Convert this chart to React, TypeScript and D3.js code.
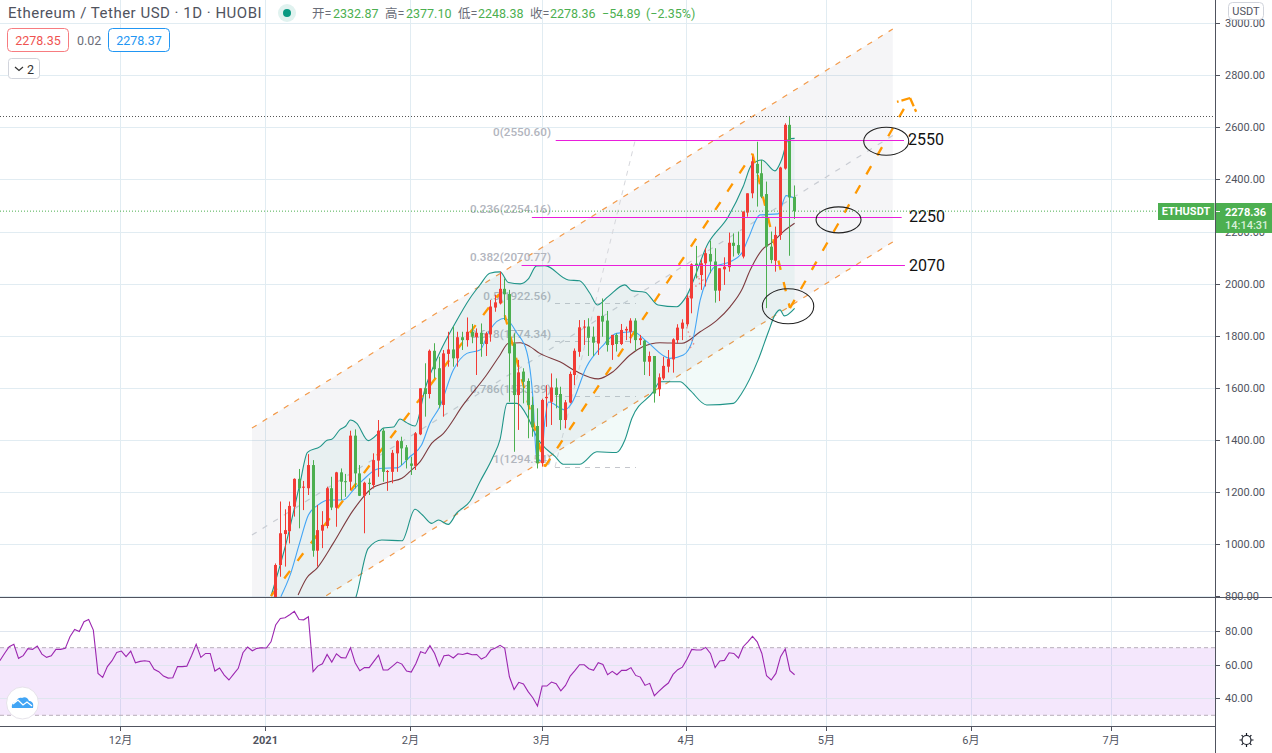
import React from 'react';
import * as d3 from 'd3';

const opens = [770,919,1038,1049,1143,1250,1216,1214,1303,974,1051,1069,1214,1139,1275,1241,1239,1416,1271,1185,1235,1226,1320,1435,1277,1277,1348,1395,1371,1309,1300,1421,1598,1576,1742,1675,1534,1730,1747,1713,1794,1783,1815,1794,1811,1768,1805,1908,1924,1980,1960,1770,1572,1662,1626,1534,1453,1310,1560,1546,1601,1576,1476,1543,1649,1738,1832,1835,1796,1770,1876,1858,1764,1803,1768,1820,1815,1858,1783,1781,1700,1722,1594,1636,1681,1709,1783,1827,1844,1943,2077,2033,2078,2114,2085,1973,2055,2063,2157,2148,2104,2273,2347,2460,2424,2344,2142,2088,2187,2442,2610,2332.87];
const closes = [919,1041,1053,1146,1250,1214,1220,1303,974,1053,1073,1214,1140,1275,1239,1239,1416,1271,1185,1235,1230,1322,1435,1277,1280,1350,1395,1367,1322,1300,1425,1598,1576,1742,1671,1534,1732,1747,1713,1794,1783,1815,1796,1811,1768,1809,1912,1928,1980,1959,1732,1572,1659,1623,1534,1448,1310,1553,1565,1601,1572,1476,1544,1653,1742,1832,1835,1792,1773,1876,1854,1764,1803,1768,1822,1826,1858,1783,1790,1700,1722,1578,1640,1684,1710,1786,1831,1850,1946,2074,2068,2078,2117,2085,1973,2059,2065,2157,2145,2116,2277,2347,2470,2424,2334,2142,2091,2187,2446,2610,2331,2278.36];
const highs = [925,1163,1133,1163,1252,1288,1242,1345,1322,1150,1126,1220,1258,1277,1290,1269,1435,1440,1303,1239,1252,1348,1476,1444,1284,1361,1399,1412,1380,1335,1430,1598,1694,1747,1771,1719,1745,1815,1835,1815,1815,1870,1845,1828,1847,1815,1937,1957,2046,2020,1976,1809,1707,1675,1636,1566,1521,1558,1610,1655,1636,1604,1553,1662,1751,1860,1860,1867,1835,1876,1943,1895,1803,1809,1845,1835,1867,1867,1803,1783,1739,1722,1655,1719,1745,1790,1844,1863,1956,2078,2145,2093,2136,2165,2136,2059,2101,2196,2193,2200,2277,2347,2488,2545,2475,2392,2200,2219,2449,2616,2644,2377.1];
const lows = [700,874,913,1002,1105,1060,1130,1188,951,913,984,1060,1130,1066,1169,1181,1207,1213,1184,1041,1188,1213,1258,1239,1204,1233,1277,1303,1290,1265,1284,1418,1489,1559,1636,1521,1489,1681,1681,1681,1745,1758,1771,1649,1719,1722,1777,1892,1920,1860,1546,1354,1438,1540,1406,1412,1290,1297,1450,1457,1521,1438,1444,1540,1610,1719,1764,1722,1722,1726,1796,1739,1707,1739,1764,1783,1771,1742,1764,1649,1645,1543,1568,1630,1659,1658,1771,1783,1835,1886,2020,1976,1989,2040,1927,1933,1995,2046,2104,2110,2097,2257,2328,2296,2328,1906,2078,2046,2168,2438,2107,2248.38];

const upperIdx = [-1,2.4,5.2,6.8,9.5,11,12,13.8,15,16,17.3,19.8,22,23,25.2,26.6,28,29.8,32,35.2,38,41.6,43.7,45.8,48,49.8,52.3,54,55.8,57.6,62.6,65,67.2,68.8,71.1,74.7,76.2,79,81.8,85.8,87.6,92.5,96.8,100,101.8,104,106.8,108.2,109.7,111];
const upperVal = [800,1015,1233,1352,1374,1398,1402,1440,1453,1476,1464,1397,1426,1445,1449,1480,1466,1453,1599,1739,1835,1945,1995,2040,2045,2004,1999,2017,2068,2069,2014,2011,1963,1918,1950,1995,1973,1967,1918,1911,1944,2155,2257,2373,2456,2475,2433,2475,2555,2558];
const lowerIdx = [-1,10,17.2,19.8,22.7,27,29.8,31.4,33.4,34.8,36.9,38.7,41.6,43.7,46.5,48,49.5,51.6,54,55.8,59.8,61.5,65,68.7,72.9,74.7,76.2,80.8,82.2,86.5,88.6,92.2,97.9,99.7,103.2,105.4,106.8,107.9,108.8,111];
const lowerVal = [600,600,797,983,1015,1012,1133,1111,1079,1092,1075,1118,1165,1239,1335,1402,1540,1540,1484,1412,1335,1306,1306,1354,1351,1399,1483,1585,1623,1623,1591,1534,1540,1579,1707,1815,1880,1899,1876,1905];
const basisIdx = [4.8,6.6,8.9,12.3,16.6,20.9,22.7,24.4,27,28.7,30.9,33.4,35.9,40.1,45.1,48,49.8,52.3,54.4,56.5,60.8,64.4,69,72.2,75.8,78.6,82.2,86.9,90.8,94.3,97.2,99.7,101.5,104,106.4,108.6,111];
const basisVal = [804,868,908,1002,1130,1218,1230,1239,1252,1278,1316,1387,1425,1534,1649,1726,1771,1773,1758,1732,1700,1662,1634,1662,1726,1758,1773,1771,1815,1858,1911,1976,2052,2129,2161,2200,2232];
const fastIdx = [1.1,3.1,5.1,7,9.1,11.3,14.5,16.6,18.7,21.6,23,25.9,28.7,31.2,33,35.1,38,40.9,43.7,45.8,49,51.6,53.7,55,55.8,56.8,57.6,58.4,61.9,63.3,66.5,70.1,72.9,76.5,79.4,84.3,87.2,89.3,90.8,92.2,93.9,97.2,99.7,101.1,103.6,107.5,109.2,111];
const fastVal = [797,881,1002,1111,1150,1169,1169,1207,1246,1287,1291,1292,1335,1380,1464,1527,1668,1732,1745,1822,1867,1810,1739,1566,1335,1319,1476,1545,1515,1540,1681,1764,1809,1815,1777,1713,1726,1790,1937,2014,2065,2084,2117,2174,2264,2268,2338,2328];

const rsiValues = [62.3,66.6,70.6,72,63.7,65.3,69.4,69,71,66.2,64.3,65.2,69,69,69.6,76.5,80.8,79.6,85.4,86.7,80.4,54.8,52.4,58.8,62.3,67.2,68,64.7,68,61.1,61.9,62.3,61.9,57.2,55.8,53.2,52,52.2,58.8,58.8,59.1,65.2,72,64.3,66.6,66.6,56.2,58,53.8,50.9,54.4,57.8,67,70.4,68.2,69.6,70,69.8,73.5,83.4,87.3,87.7,89.5,91.5,86.7,86.5,88.3,55.8,59.1,60.5,66,61.5,66.4,64.1,63.9,70,61.1,56.4,58.2,58.2,61.9,65.6,56.8,56.8,59.1,61.5,60.3,56.2,55.6,60.7,
67.6,66.6,71.2,66.6,59.1,65.2,65.6,63.9,66.4,66,66.8,65.8,66,63.3,64.7,68.6,69.8,71.4,69.6,52.8,45.3,49.5,48.5,44,40.4,35.5,47.3,47.3,49.7,48.7,44.5,47.7,53.2,56.4,59.9,59.9,57.6,56.6,61.1,60.1,54,56,54,56.6,56.6,58.2,53.6,52.6,47.7,48.9,41.6,44.3,46.9,49.1,54.2,57,58.5,63.3,69,68.6,68.6,70.2,66.6,58.2,62.1,62.5,67,66.6,63.9,70.6,73.5,76.7,73.5,66.6,53.4,50.9,54.8,64.7,69.2,56.4,54];

const priceTicks = [3000,2800,2600,2400,2200,2000,1800,1600,1400,1200,1000,800];
const rsiTicks = [80,60,40];
const monthLabels = ['12月','2021','2月','3月','4月','5月','6月','7月'];
const monthPos = [-33.2,-2.2,28.8,56.9,87.8,117.8,148.7,178.7];

const channelIdx = [-5.07,132];
const channelUpper = [1445,2978];
const channelMid = [1034,2569];
const channelLower = [623,2160];

const fibLabels = ['0(2550.60)','0.236(2254.16)','0.382(2070.77)','0.5(1922.56)','0.618(1774.34)','0.786(1563.39)','1(1294.54)'];
const fibLabelPrices = [2579,2283,2099,1949,1803,1591,1322];
const fibStubPrices = [1925,1778,1568,1297];
const levelPrices = [2552,2255,2070];
const levelText = ['2550','2250','2070'];
const levelStart = [59.9,54.8,52.6];
const levelEnd = [134.4,133.9,134.6];

const zigzagIdx = [-1,47.8,57.6,102,110,135.7];
const zigzagVal = [800,1960,1297,2499,1906,2713];
const arrowIdx = [132.9,137];
const arrowVal = [2698,2660];
const dotIdx = [91.1,90,91.4,90.4,89,88.2,87.9,88.6,89.5,88.6];
const dotVal = [2040,2022,2014,1995,1983,1931,1835,1796,1771,1752];
const ellipseIdx = [130.6,120.4,109.6];
const ellipseVal = [2547,2245,1913];
const ellipseRx = [22.5,22.5,25.7];
const ellipseRy = [14,13,17.5];

const W = 1272, H = 753;
const paneRight = 1215.5, paneBottom = 597, rsiBottom = 726;
const x = d3.scaleLinear().domain([0, 111]).range([275.67, 794.6]);
const y = d3.scaleLinear().domain([800, 3000]).range([596, 23.3]);
const yr = d3.scaleLinear().domain([30, 70]).range([715.3, 647.7]);

const mk = (xs: number[], ys: number[]) => xs.map((v, i) => [x(v), y(ys[i])] as [number, number]);
const smooth = d3.line().curve(d3.curveMonotoneX);
const straight = d3.line();

const RED = '#f23b35', GREEN = '#4caf50', GRID = '#e1ecf2', TXT = '#50535e';
const UI = 'Roboto, "Noto Sans CJK SC", sans-serif';

export default function App() {
  const upper = mk(upperIdx, upperVal);
  const lower = mk(lowerIdx, lowerVal);
  const bandPath = smooth(upper)! + smooth(lower.slice().reverse())!.replace('M', 'L');
  const rsiStart = 111 - rsiValues.length + 1;
  const rsiPath = d3.line<number>().x((_, i) => x(rsiStart + i)).y(v => yr(v))(rsiValues)!;
  const Pane = '#50535e';
  const lastIdx = zigzagIdx.length - 1;
  return (
    <svg width={W} height={H} viewBox={`0 0 ${W} ${H}`} style={{ position: 'fixed', left: 0, top: 0, background: '#fff', fontFamily: UI }}>
      <defs>
        <clipPath id="main"><rect x={0} y={0} width={paneRight} height={paneBottom} /></clipPath>
        <clipPath id="rsi"><rect x={0} y={paneBottom} width={paneRight} height={rsiBottom - paneBottom} /></clipPath>
      </defs>
      {/* grid */}
      {priceTicks.map(t => <line key={t} x1={0} x2={paneRight} y1={Math.round(y(t)) + .5} y2={Math.round(y(t)) + .5} stroke={GRID} />)}
      {monthPos.map((p, i) => <line key={i} x1={Math.round(x(p)) + .5} x2={Math.round(x(p)) + .5} y1={0} y2={rsiBottom} stroke={GRID} />)}

      <g clipPath="url(#main)">
        {/* channel */}
        <path d={straight([...mk(channelIdx, channelUpper), ...mk(channelIdx, channelLower).reverse()])! + 'Z'} fill="#7f7f96" fillOpacity={0.08} />
        <line x1={x(channelIdx[0])} x2={x(channelIdx[1])} y1={y(channelMid[0])} y2={y(channelMid[1])} stroke="#c9ccd3" strokeWidth={1.2} strokeDasharray="5.5 7" />
        <line x1={x(channelIdx[0])} x2={x(channelIdx[1])} y1={y(channelUpper[0])} y2={y(channelUpper[1])} stroke="#f39a4a" strokeWidth={1.2} strokeDasharray="5.5 7" />
        <line x1={x(channelIdx[0])} x2={x(channelIdx[1])} y1={y(channelLower[0])} y2={y(channelLower[1])} stroke="#f39a4a" strokeWidth={1.2} strokeDasharray="5.5 7" />
        {/* fib */}
        {fibLabels.map((t, i) => <text key={t} x={551} y={y(fibLabelPrices[i])} textAnchor="end" fontSize={11.7} fontWeight={500} fill="#b2b5be" dominantBaseline="middle">{t}</text>)}
        {fibStubPrices.map(p => <line key={p} x1={555} x2={636} y1={Math.round(y(p)) + .5} y2={Math.round(y(p)) + .5} stroke="#c4c6cc" strokeDasharray="5 5" />)}
        <line x1={555} y1={467} x2={635} y2={141} stroke="#d6d7dc" strokeDasharray="5 5" />
        {/* bands */}
        <path d={bandPath + 'Z'} fill="#26a69a" fillOpacity={0.06} />
        <path d={smooth(upper)!} fill="none" stroke="#1f9488" strokeWidth={1.1} />
        <path d={smooth(lower)!} fill="none" stroke="#1f9488" strokeWidth={1.1} />
        <path d={smooth(mk(basisIdx, basisVal))!} fill="none" stroke="#7d3b3f" strokeWidth={1.1} />
        <path d={smooth(mk(fastIdx, fastVal))!} fill="none" stroke="#42a5f5" strokeWidth={1.1} />
        {/* zigzag */}
        {zigzagIdx.slice(1).map((v, i) => (
          <line key={i} x1={x(zigzagIdx[i])} y1={y(zigzagVal[i])} x2={x(v)} y2={y(zigzagVal[i + 1])} stroke="#ff9800" strokeWidth={2.3} strokeDasharray="9.5 12.5" />
        ))}
        {arrowIdx.map((v, i) => (
          <line key={i} x1={x(zigzagIdx[lastIdx])} y1={y(zigzagVal[lastIdx])} x2={x(v)} y2={y(arrowVal[i])} stroke="#ff9800" strokeWidth={2.3} strokeDasharray="9 3" />
        ))}
        <path d={straight(mk(dotIdx, dotVal))!} fill="none" stroke="#ef5350" strokeOpacity={0.6} strokeWidth={1.5} strokeDasharray="1.5 3" />
        {/* candles */}
        {opens.map((o, i) => {
          const c = closes[i], col = c >= o ? RED : GREEN;
          const cx = Math.round(x(i) - 1.5);
          const top = y(Math.max(o, c)), bot = y(Math.min(o, c));
          return (
            <g key={i}>
              <rect x={cx + 1} width={1} y={y(highs[i])} height={y(lows[i]) - y(highs[i])} fill={col} />
              <rect x={cx} width={3} y={top} height={Math.max(1, bot - top)} fill={col} />
            </g>
          );
        })}
        {/* levels */}
        {levelPrices.map((p, i) => (
          <g key={p}>
            <line x1={x(levelStart[i])} x2={x(levelEnd[i])} y1={Math.round(y(p)) + .5} y2={Math.round(y(p)) + .5} stroke="#e91edb" />
            <text x={i === 0 ? 908 : 909} y={y(p) - (i === 2 ? 0 : 1)} dy="0.36em" fontSize={16} fill="#111">{levelText[i]}</text>
          </g>
        ))}
        {ellipseIdx.map((v, i) => <ellipse key={i} cx={x(v)} cy={y(ellipseVal[i])} rx={ellipseRx[i]} ry={ellipseRy[i]} fill="none" stroke="#222" strokeWidth={1.1} />)}
        {/* price lines */}
        <line x1={0} x2={paneRight} y1={116.5} y2={116.5} stroke="#555" strokeDasharray="1 2" />
        <line x1={0} x2={1158} y1={y(2278.36)} y2={y(2278.36)} stroke={GREEN} strokeDasharray="1 2" />
      </g>

      {/* RSI */}
      <rect x={0} y={yr(70)} width={paneRight} height={yr(30) - yr(70)} fill="#9c27e0" fillOpacity={0.11} />
      {rsiTicks.map(t => <line key={t} x1={0} x2={paneRight} y1={Math.round(yr(t)) + .5} y2={Math.round(yr(t)) + .5} stroke="#dfe6ef" />)}
      <line x1={0} x2={paneRight} y1={yr(70)} y2={yr(70)} stroke="#b7aeba" strokeDasharray="4 3" />
      <line x1={0} x2={paneRight} y1={yr(30)} y2={yr(30)} stroke="#b7aeba" strokeDasharray="4 3" />
      <g clipPath="url(#rsi)">
        <path d={rsiPath} fill="none" stroke="#9c27b0" strokeWidth={1.1} />
      </g>

      {/* frame */}
      <line x1={0} x2={W} y1={597.5} y2={597.5} stroke={Pane} />
      <line x1={0} x2={paneRight} y1={726.5} y2={726.5} stroke={Pane} />
      <line x1={paneRight} x2={paneRight} y1={0} y2={H} stroke={Pane} />

      {/* axes */}
      {priceTicks.map(t => (
        <g key={t}>
          <line x1={paneRight} x2={paneRight + 4.5} y1={Math.round(y(t)) + .5} y2={Math.round(y(t)) + .5} stroke={Pane} />
          <text x={1225} y={y(t)} dy="0.36em" fontSize={11} fill={TXT}>{t.toFixed(2)}</text>
        </g>
      ))}
      {rsiTicks.map(t => (
        <g key={t}>
          <line x1={paneRight} x2={paneRight + 4.5} y1={Math.round(yr(t)) + .5} y2={Math.round(yr(t)) + .5} stroke={Pane} />
          <text x={1225} y={yr(t)} dy="0.36em" fontSize={11} fill={TXT}>{t.toFixed(2)}</text>
        </g>
      ))}
      {monthPos.map((p, i) => (
        <g key={i}>
          <line x1={Math.round(x(p)) + .5} x2={Math.round(x(p)) + .5} y1={726} y2={731} stroke={Pane} />
          <text x={x(p)} y={740} dy="0.36em" textAnchor="middle" fontSize={11} fontWeight={monthLabels[i] === '2021' ? 700 : 400} fill={TXT}>{monthLabels[i]}</text>
        </g>
      ))}
      <rect x={1228.5} y={2.5} width={35} height={17} rx={4} fill="#fff" stroke="#d1d4dc" />
      <text x={1246} y={11} dy="0.36em" textAnchor="middle" fontSize={11} fill={TXT}>USDT</text>

      {/* last price */}
      <rect x={1158} y={203} width={56.5} height={17} fill={GREEN} />
      <text x={1186} y={211.5} dy="0.36em" textAnchor="middle" fontSize={11} fontWeight={700} fill="#fff">ETHUSDT</text>
      <rect x={1216} y={203} width={56} height={30} fill={GREEN} />
      <line x1={1216} x2={1220} y1={211.5} y2={211.5} stroke="#fff" />
      <text x={1225} y={212} dy="0.36em" fontSize={11} fontWeight={700} fill="#fff">2278.36</text>
      <text x={1225} y={225} dy="0.36em" fontSize={11} fontWeight={500} fill="#d9f0da">14:14:31</text>

      {/* legend */}
      <text x={8} y={13} dy="0.36em" fontSize={15} letterSpacing={0.5} fill="#50535e">Ethereum / Tether USD · 1D · HUOBI</text>
      <circle cx={287} cy={13} r={9} fill="#e0f2ef" />
      <circle cx={287} cy={13} r={4} fill="#089981" />
      <g fontSize={12.5} fill={GREEN}>
        <text x={312} y={13} dy="0.36em" fill="#6a6d78">开=</text><text x={333} y={13} dy="0.36em">2332.87</text>
        <text x={385} y={13} dy="0.36em" fill="#6a6d78">高=</text><text x={406} y={13} dy="0.36em">2377.10</text>
        <text x={458} y={13} dy="0.36em" fill="#6a6d78">低=</text><text x={478} y={13} dy="0.36em">2248.38</text>
        <text x={530} y={13} dy="0.36em" fill="#6a6d78">收=</text><text x={550} y={13} dy="0.36em">2278.36</text>
        <text x={602} y={13} dy="0.36em">−54.89</text><text x={646} y={13} dy="0.36em">(−2.35%)</text>
      </g>
      <rect x={7.5} y={28.5} width={61} height={23} rx={4} fill="#fff" stroke="#f77c80" />
      <text x={38} y={40} dy="0.36em" textAnchor="middle" fontSize={12.5} fill="#ef5350">2278.35</text>
      <text x={77} y={40} dy="0.36em" fontSize={12.5} fill="#6a6d78">0.02</text>
      <rect x={108.5} y={28.5} width={61} height={23} rx={4} fill="#fff" stroke="#2196f3" />
      <text x={139} y={40} dy="0.36em" textAnchor="middle" fontSize={12.5} fill="#2196f3">2278.37</text>
      <rect x={8.5} y={58.5} width={31} height={20} rx={3} fill="#fff" stroke="#d1d4dc" />
      <path d="M15 67l4 3.5 4-3.5" fill="none" stroke="#333" strokeWidth={1.2} />
      <text x={27} y={69} dy="0.36em" fontSize={12.5} fill="#333">2</text>

      {/* logo */}
      <circle cx={22.5} cy={703} r={16} fill="#fff" stroke="#e6e3ea" strokeWidth={1} />
      <path d="M12 708c-1-4 2-6 4-6 1-4 4-5 6-4 3-2 6 0 7 3 3 0 5 2 4 7z" fill="#42a5f5" />
      <path d="M13 704l5-4 5 5 4-3 5 4" fill="none" stroke="#fff" strokeWidth={1.3} />

      {/* gear */}
      <circle cx={1246.5} cy={740} r={4.5} fill="none" stroke="#131722" strokeWidth={1.2} />
      <path d="M1246.5 733v2.3M1246.5 744.7v2.3M1239.5 740h2.3M1251.2 740h2.3M1241.6 735.1l1.6 1.6M1249.8 743.3l1.6 1.6M1241.6 744.9l1.6-1.6M1249.8 736.7l1.6-1.6" stroke="#131722" strokeWidth={1.2} />
    </svg>
  );
}
